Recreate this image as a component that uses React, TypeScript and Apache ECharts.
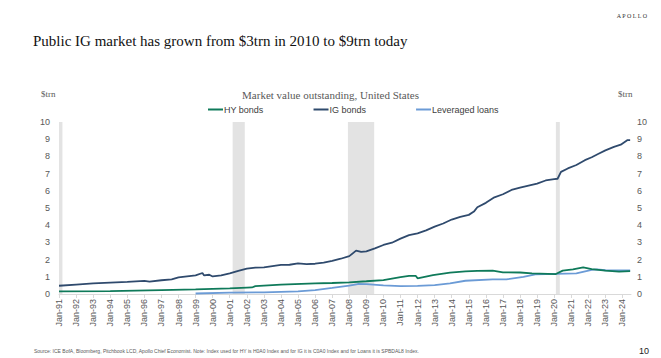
import React, { useEffect, useRef } from "react";
import * as echarts from "echarts";

const igYears = [1991.0, 1992.0, 1993.0, 1994.0, 1995.0, 1996.0, 1996.3, 1997.0, 1997.6, 1998.0, 1998.5, 1999.0, 1999.4, 1999.5, 1999.8, 2000.0, 2000.5, 2001.0, 2001.5, 2002.0, 2002.5, 2003.0, 2003.5, 2004.0, 2004.5, 2005.0, 2005.5, 2006.0, 2006.5, 2007.0, 2007.5, 2008.0, 2008.4, 2008.7, 2009.0, 2009.5, 2010.0, 2010.5, 2011.0, 2011.5, 2012.0, 2012.5, 2013.0, 2013.5, 2014.0, 2014.5, 2015.0, 2015.3, 2015.5, 2016.0, 2016.5, 2017.0, 2017.5, 2018.0, 2018.5, 2019.0, 2019.5, 2020.0, 2020.2, 2020.4, 2020.8, 2021.3, 2021.8, 2022.2, 2022.6, 2023.0, 2023.5, 2023.9, 2024.3, 2024.45];
const igValues = [0.48, 0.55, 0.62, 0.66, 0.7, 0.76, 0.72, 0.8, 0.85, 0.97, 1.03, 1.08, 1.22, 1.08, 1.12, 1.02, 1.08, 1.2, 1.35, 1.47, 1.53, 1.55, 1.62, 1.69, 1.7, 1.78, 1.74, 1.76, 1.82, 1.92, 2.05, 2.2, 2.52, 2.45, 2.48, 2.65, 2.85, 2.98, 3.22, 3.42, 3.53, 3.7, 3.92, 4.1, 4.33, 4.48, 4.6, 4.79, 5.04, 5.3, 5.62, 5.8, 6.05, 6.18, 6.3, 6.42, 6.6, 6.68, 6.7, 7.1, 7.3, 7.5, 7.78, 7.95, 8.15, 8.35, 8.55, 8.68, 8.95, 8.95];

const hyYears = [1991.0, 1994.0, 1997.0, 1999.0, 2001.0, 2002.0, 2002.3, 2002.5, 2004.0, 2006.0, 2007.0, 2008.0, 2009.0, 2010.0, 2011.0, 2011.5, 2011.9, 2012.0, 2012.9, 2013.9, 2014.8, 2015.5, 2016.4, 2017.0, 2018.0, 2018.7, 2020.1, 2020.5, 2021.1, 2021.7, 2022.2, 2023.0, 2023.8, 2024.45];
const hyValues = [0.15, 0.17, 0.23, 0.27, 0.33, 0.37, 0.38, 0.46, 0.54, 0.62, 0.64, 0.68, 0.74, 0.81, 0.98, 1.05, 1.05, 0.91, 1.1, 1.24, 1.32, 1.35, 1.36, 1.26, 1.25, 1.2, 1.16, 1.36, 1.43, 1.55, 1.45, 1.36, 1.3, 1.33];

const loanYears = [1999.0, 2001.0, 2003.0, 2005.0, 2006.0, 2007.0, 2008.0, 2008.5, 2009.0, 2010.0, 2011.0, 2012.0, 2013.0, 2013.9, 2014.8, 2016.4, 2017.2, 2018.2, 2018.9, 2020.1, 2021.3, 2022.2, 2022.5, 2023.0, 2024.45];
const loanValues = [0.03, 0.08, 0.1, 0.15, 0.23, 0.35, 0.49, 0.58, 0.57, 0.5, 0.46, 0.47, 0.52, 0.62, 0.77, 0.85, 0.85, 1.0, 1.14, 1.17, 1.2, 1.4, 1.43, 1.38, 1.37];

const recessions = [
  [1991.0, 1991.2],
  [2001.17, 2001.88],
  [2007.92, 2009.46],
  [2020.1, 2020.33],
];

const yTicks = { min: 0, max: 10, interval: 1 };
const xRange = { min: 1991, max: 2024.5 };

const pair = (xs: number[], ys: number[]) => xs.map((x, i) => [x, ys[i]]);

export default function App() {
  const ref = useRef<HTMLDivElement>(null);
  useEffect(() => {
    if (!ref.current) return;
    const chart = echarts.init(ref.current, null, { renderer: "svg" });
    const gray = "#595959";
    const axisLabel = { color: gray, fontSize: 9, fontFamily: "Liberation Sans, Arial" };
    chart.setOption({
      animation: false,
      backgroundColor: "#ffffff",
      grid: { left: 59, right: 30, top: 122, bottom: 64 },
      legend: {
        left: 203,
        top: 100,
        itemWidth: 15,
        itemHeight: 2,
        itemGap: 50,
        icon: "rect",
        data: ["HY bonds", "IG bonds", "Leveraged loans"],
        textStyle: { color: "#404040", fontSize: 9, fontFamily: "Liberation Sans, Arial", padding: [0, 0, 0, -4] },
      },
      xAxis: {
        type: "value",
        min: xRange.min,
        max: xRange.max,
        interval: 1,
        splitLine: { show: false },
        axisLine: { show: true, lineStyle: { color: "#d9d9d9" } },
        axisTick: { show: true, length: 4, lineStyle: { color: "#d9d9d9" } },
        axisLabel: {
          ...axisLabel,
          rotate: 90,
          margin: 5,
          showMaxLabel: false,
          formatter: (v: number) =>
            Number.isInteger(v) ? "Jan-" + String(v % 100).padStart(2, "0") : "",
        },
      },
      yAxis: [
        {
          type: "value",
          ...yTicks,
          position: "left",
          splitLine: { show: false },
          axisLine: { show: false },
          axisTick: { show: false },
          axisLabel: { ...axisLabel, margin: 9 },
        },
        {
          type: "value",
          ...yTicks,
          position: "right",
          splitLine: { show: false },
          axisLine: { show: false },
          axisTick: { show: false },
          axisLabel: { ...axisLabel, margin: 6 },
        },
      ],
      series: [
        {
          name: "recessions",
          type: "line",
          data: [],
          z: 1,
          silent: true,
          markArea: {
            silent: true,
            itemStyle: { color: "#e3e3e3" },
            data: recessions.map(([a, b]) => [{ xAxis: a }, { xAxis: b }]),
          },
        },
        {
          name: "HY bonds",
          type: "line",
          data: pair(hyYears, hyValues),
          showSymbol: false,
          z: 3,
          color: "#0f7a5a",
          lineStyle: { width: 1.8, color: "#0f7a5a" },
        },
        {
          name: "IG bonds",
          type: "line",
          data: pair(igYears, igValues),
          showSymbol: false,
          z: 4,
          color: "#2f4a6d",
          lineStyle: { width: 1.8, color: "#2f4a6d" },
        },
        {
          name: "Leveraged loans",
          type: "line",
          data: pair(loanYears, loanValues),
          showSymbol: false,
          z: 2,
          color: "#6b9bd6",
          lineStyle: { width: 1.8, color: "#6b9bd6" },
        },
      ],
      graphic: [
        {
          type: "text",
          left: 33,
          top: 33,
          style: {
            text: "Public IG market has grown from $3trn in 2010 to $9trn today",
            font: "15px 'Liberation Serif', serif",
            fill: "#111111",
          },
        },
        {
          type: "text",
          right: 13,
          top: 13,
          style: {
            text: "A P O L L O",
            font: "6px 'Liberation Serif', serif",
            fill: "#333333",
          },
        },
        {
          type: "text",
          left: "center",
          top: 89,
          style: {
            text: "Market value outstanding, United States",
            font: "11px 'Liberation Serif', serif",
            fill: "#595959",
          },
        },
        {
          type: "text",
          left: 41,
          top: 89,
          style: { text: "$trn", font: "9px 'Liberation Serif', serif", fill: "#595959" },
        },
        {
          type: "text",
          left: 618,
          top: 89,
          style: { text: "$trn", font: "9px 'Liberation Serif', serif", fill: "#595959" },
        },
        {
          type: "text",
          left: 34,
          top: 348,
          style: {
            text: "Source: ICE BofA, Bloomberg, Pitchbook LCD, Apollo Chief Economist. Note: Index used for HY is H0A0 Index and for IG it is C0A0 Index and for Loans it is SPBDAL8 Index.",
            font: "5px 'Liberation Sans', Arial",
            fill: "#595959",
          },
        },
        {
          type: "text",
          right: 12,
          top: 346,
          style: { text: "10", font: "9px 'Liberation Sans', Arial", fill: "#222222" },
        },
      ],
    });
    return () => chart.dispose();
  }, []);
  return (
    <div
      ref={ref}
      style={{ position: "fixed", left: 0, top: 0, width: 661, height: 358, background: "#fff" }}
    />
  );
}
